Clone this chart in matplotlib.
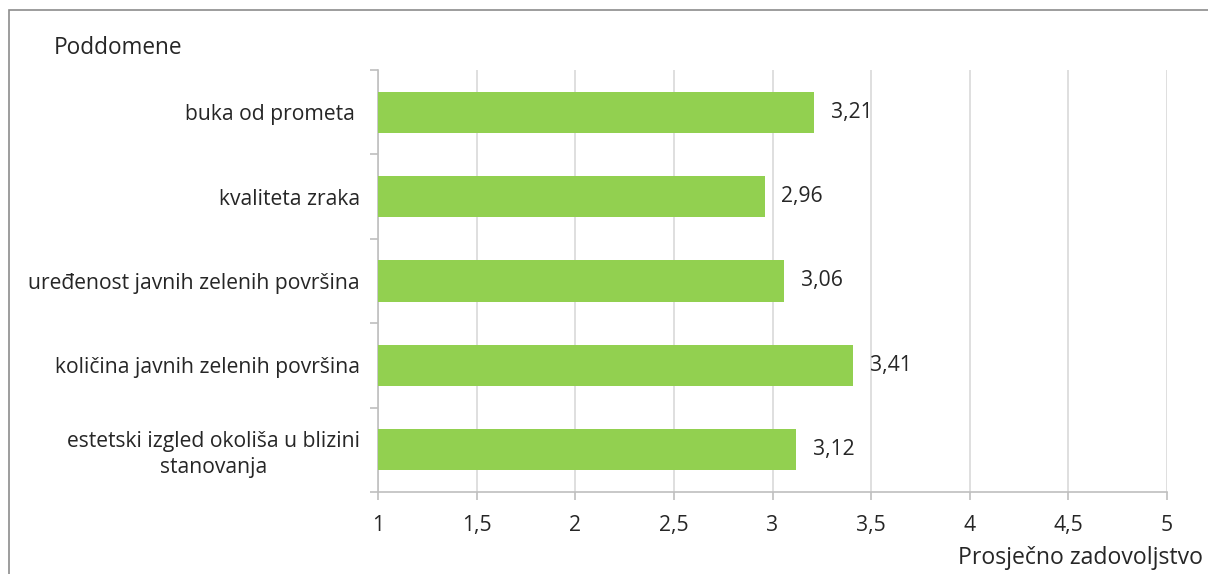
import matplotlib
matplotlib.use("Agg")
import matplotlib.pyplot as plt
from matplotlib.patches import Rectangle

categories = ["buka od prometa ", "kvaliteta zraka", "uređenost javnih zelenih površina",
              "količina javnih zelenih površina", "estetski izgled okoliša u blizini\nstanovanja"]
values = [3.21, 2.96, 3.06, 3.41, 3.12]
value_labels = ["3,21", "2,96", "3,06", "3,41", "3,12"]
xticks = [1, 1.5, 2, 2.5, 3, 3.5, 4, 4.5, 5]
xtick_labels = ["1", "1,5", "2", "2,5", "3", "3,5", "4", "4,5", "5"]

plt.rcParams['font.family'] = ['Open Sans', 'DejaVu Sans']
W, H = 1208, 574
fig = plt.figure(figsize=(W/100, H/100), dpi=100)
ax = fig.add_axes([378/W, 1-492/H, (1167-378)/W, (492-70)/H])

# outer border
fig.patches.append(Rectangle((9/W, -0.1), 1.2, 1-10/H+0.1, transform=fig.transFigure,
                             fill=False, edgecolor="#8C8C8C", linewidth=1.2))

FS = 15.2
ypos = list(range(len(categories)))
ax.barh(ypos, [v - 1 for v in values], left=1, height=0.49, color="#92D050", zorder=3)
for y, v, lab in zip(ypos, values, value_labels):
    ax.text(v + 0.085, y, lab, va="center", ha="left", fontsize=FS, color="#262626")

ax.set_xlim(1, 5)
ax.set_ylim(len(categories) - 0.5, -0.5)
ax.set_xticks(xticks)
ax.set_xticklabels(xtick_labels, fontsize=FS, color="#262626")
ax.set_yticks(ypos)
ax.set_yticklabels(categories, fontsize=FS, color="#262626", multialignment="center",
                   linespacing=1.3)
ax.set_yticks([i - 0.5 for i in range(len(categories) + 1)], minor=True)
ax.tick_params(axis="y", which="major", length=0, pad=13)
ax.tick_params(axis="y", which="minor", length=6, color="#BFBFBF", width=1.2)
ax.tick_params(axis="x", which="major", length=6, color="#BFBFBF", width=1.2, pad=10.5)
ax.grid(axis="x", color="#D9D9D9", linewidth=1.2, zorder=0)
for s in ["top", "right"]:
    ax.spines[s].set_visible(False)
for s in ["left", "bottom"]:
    ax.spines[s].set_color("#BFBFBF")
    ax.spines[s].set_linewidth(1.2)

fig.text(54/W, 1-48/H, "Poddomene", fontsize=16.3, ha="left", va="center", color="#262626")
fig.text(1203/W, 1-558/H, "Prosječno zadovoljstvo", fontsize=16.6, ha="right", va="center", color="#262626")

fig.savefig("out.png", dpi=100)
